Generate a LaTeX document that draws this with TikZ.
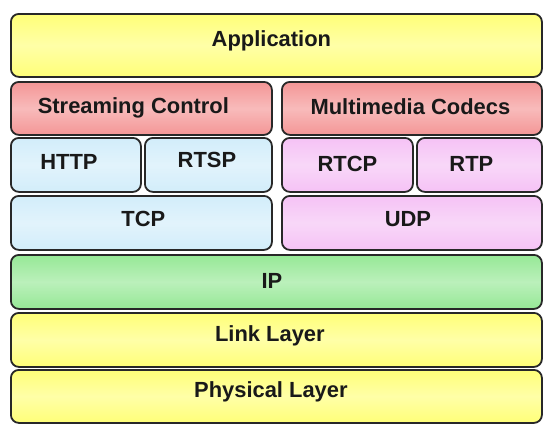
\documentclass[tikz,border=0pt]{standalone}
\usepackage{fontspec}
\setmainfont{Liberation Sans}
\definecolor{layyellow}{RGB}{255,255,120}
\definecolor{layred}{RGB}{244,150,150}
\definecolor{layblue}{RGB}{210,237,250}
\definecolor{laypink}{RGB}{245,194,245}
\definecolor{laygreen}{RGB}{150,232,150}
\definecolor{layedge}{RGB}{40,40,40}
\tikzset{
  layer/.style={draw=layedge, line width=1.8bp, rounded corners=8bp,
    top color=#1, bottom color=#1, middle color=#1!65!white,
    anchor=north west, inner sep=0pt},
  lbl/.style={font=\fontsize{22}{26}\selectfont\bfseries, text=black!90,
    text height=0.72em, text depth=0pt, inner sep=0pt, anchor=center},
}
\begin{document}
\begin{tikzpicture}[x=1bp, y=-1bp]
  \useasboundingbox (0,0) rectangle (544,425);
  % layer boxes: top-left corner, width and height
  \node[layer=layyellow, minimum width=531bp, minimum height=63bp] (app)  at (10,13)  {};
  \node[layer=layred,    minimum width=261bp, minimum height=53bp] (sc)   at (10,81)  {};
  \node[layer=layred,    minimum width=260bp, minimum height=53bp] (mc)   at (281,81) {};
  \node[layer=layblue,   minimum width=130bp, minimum height=54bp] (http) at (10,137) {};
  \node[layer=layblue,   minimum width=127bp, minimum height=54bp] (rtsp) at (144,137) {};
  \node[layer=laypink,   minimum width=131bp, minimum height=54bp] (rtcp) at (281,137) {};
  \node[layer=laypink,   minimum width=125bp, minimum height=54bp] (rtp)  at (416,137) {};
  \node[layer=layblue,   minimum width=261bp, minimum height=54bp] (tcp)  at (10,195) {};
  \node[layer=laypink,   minimum width=260bp, minimum height=54bp] (udp)  at (281,195) {};
  \node[layer=laygreen,  minimum width=531bp, minimum height=54bp] (ip)   at (10,254) {};
  \node[layer=layyellow, minimum width=531bp, minimum height=54bp] (link) at (10,312) {};
  \node[layer=layyellow, minimum width=531bp, minimum height=53bp] (phys) at (10,369) {};
  % layer names (shifts are in bp, positive yshift moves up)
  \node[lbl] (app-t)  at ([xshift=-5bp,yshift=2bp]app.center)     {Application};
  \node[lbl] (sc-t)   at ([xshift=-8bp,yshift=-1.5bp]sc.center)   {Streaming Control};
  \node[lbl] (mc-t)   at ([xshift=-1.5bp,yshift=-2.5bp]mc.center) {Multimedia Codecs};
  \node[lbl] (http-t) at ([xshift=-7bp,yshift=-1.5bp]http.center) {HTTP};
  \node[lbl] (rtsp-t) at ([xshift=-1.5bp,yshift=1bp]rtsp.center)  {RTSP};
  \node[lbl] (rtcp-t) at ([xshift=0bp,yshift=-3bp]rtcp.center)    {RTCP};
  \node[lbl] (rtp-t)  at ([xshift=-8bp,yshift=-3bp]rtp.center)    {RTP};
  \node[lbl] (tcp-t)  at ([xshift=2bp,yshift=-0.5bp]tcp.center)   {TCP};
  \node[lbl] (udp-t)  at ([xshift=-4bp,yshift=-0.5bp]udp.center)  {UDP};
  \node[lbl] (ip-t)   at ([xshift=-4.5bp,yshift=-3.5bp]ip.center) {IP};
  \node[lbl] (link-t) at ([xshift=-6.5bp,yshift=1.5bp]link.center) {Link Layer};
  \node[lbl] (phys-t) at ([xshift=-5.5bp,yshift=2.5bp]phys.center) {Physical Layer};
\end{tikzpicture}
\end{document}
